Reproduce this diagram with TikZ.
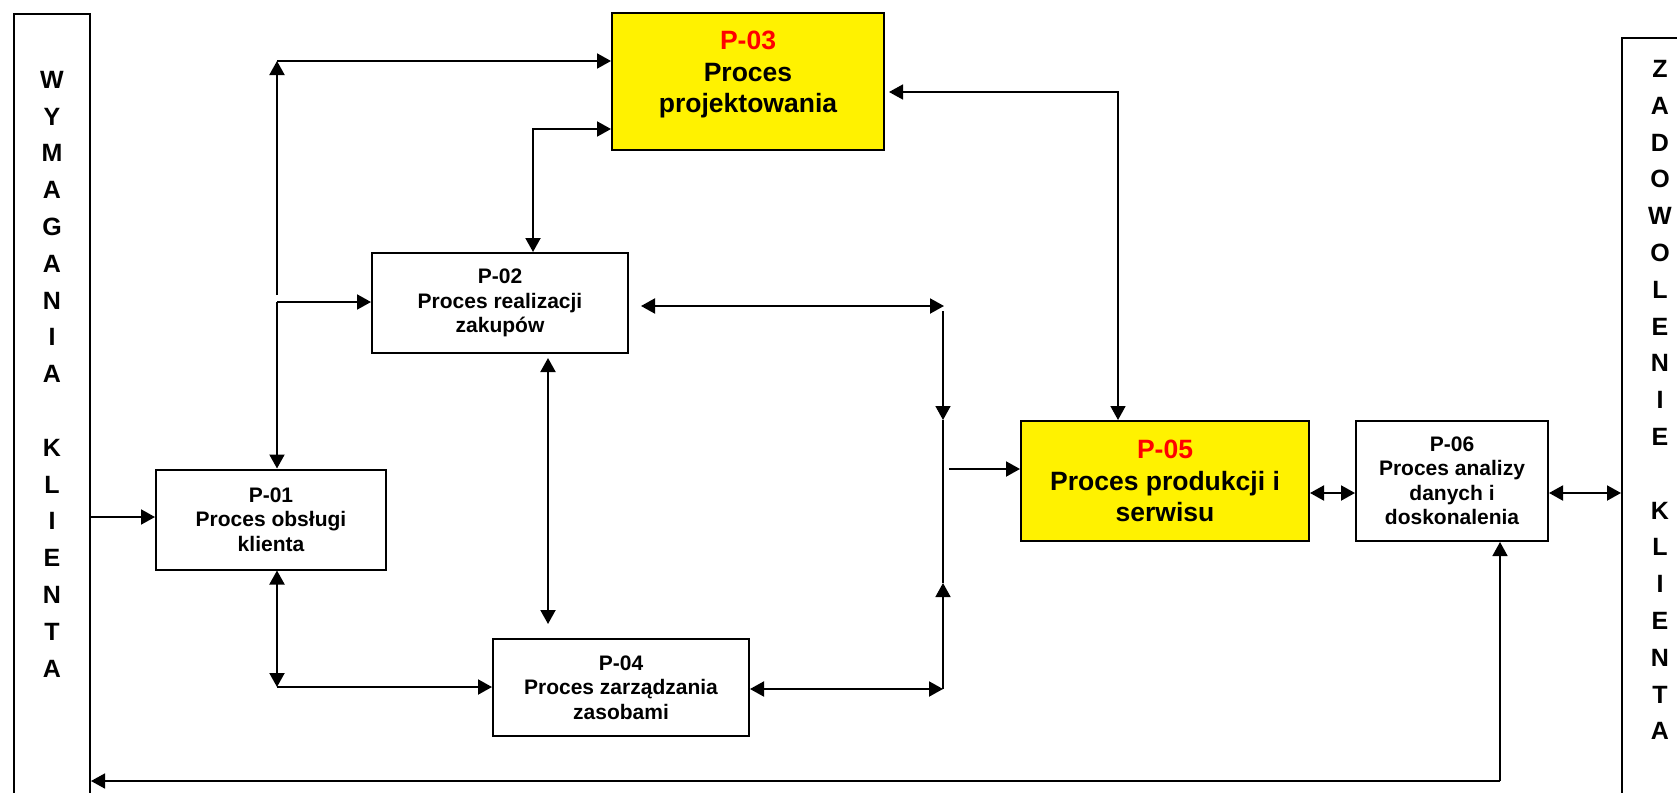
\documentclass[tikz,border=0pt]{standalone}
\usepackage{fontspec}
\setmainfont{Liberation Sans}
\usetikzlibrary{arrows.meta,calc}
\begin{document}
\begin{tikzpicture}[x=1pt,y=-1pt,
  box/.style={draw, line width=2pt, rectangle, inner sep=0pt, align=center,
    font=\bfseries\fontsize{21}{24.5}\selectfont},
  hibox/.style={box, fill=yellow, font=\bfseries\fontsize{26.5}{31.5}\selectfont},
  hilabel/.style={align=center, inner sep=0pt, font=\bfseries\fontsize{26.5}{31.5}\selectfont},
  sidebox/.style={draw, line width=2pt, inner sep=0pt, minimum width=76pt, minimum height=800pt},
  sidetext/.style={align=center, inner sep=0pt, font=\bfseries\fontsize{25}{36.8}\selectfont},
  conn/.style={line width=2pt},
  thin conn/.style={line width=1.6pt},
  tip/.tip={Triangle[length=14pt,width=15pt]},
  arr/.style={conn, -tip},
  arrb/.style={conn, tip-tip},
]
\clip (0,0) rectangle (1677,792);

% side boxes
\node[sidebox, anchor=north west,
  label={[sidetext, yshift=40pt]center:{W\\Y\\M\\A\\G\\A\\N\\I\\A\\[36.8pt]K\\L\\I\\E\\N\\T\\A}}]
  (WK) at (13,13) {};
\node[sidebox, anchor=north west,
  label={[sidetext, yshift=38pt]center:{Z\\A\\D\\O\\W\\O\\L\\E\\N\\I\\E\\[36.8pt]K\\L\\I\\E\\N\\T\\A}}]
  (ZK) at (1621,37) {};

% process boxes
\node[box, minimum width=230pt, minimum height=100pt] (P01) at (271,519.5)
  {P-01\\Proces obsługi\\klienta};
\node[box, minimum width=256pt, minimum height=100pt] (P02) at (500,303)
  {P-02\\Proces realizacji\\zakupów};
\node[hibox, minimum width=272pt, minimum height=137pt,
  label={[hilabel, yshift=7pt]center:{\textcolor{red}{P-03}\\Proces\\projektowania}}]
  (P03) at (748,81.5) {};
\node[box, minimum width=256pt, minimum height=97pt] (P04) at (621,687.5)
  {P-04\\Proces zarządzania\\zasobami};
\node[hibox, minimum width=288pt, minimum height=120pt] (P05) at (1165,481)
  {\textcolor{red}{P-05}\\Proces produkcji i\\serwisu};
\node[box, minimum width=192pt, minimum height=120pt] (P06) at (1452,481)
  {P-06\\Proces analizy\\danych i\\doskonalenia};

% junction coordinates
\coordinate (c1) at (277,61);
\coordinate (c2) at (277,295);
\coordinate (c3) at (277,302);
\coordinate (c4) at (533,129);
\coordinate (c5) at (1118,92);
\coordinate (c6) at (944,306);
\coordinate (v1) at (943,311);
\coordinate (v2) at (943,420);
\coordinate (v3) at (943,583);
\coordinate (v4) at (943,689);
\coordinate (c8) at (949,469);
\coordinate (c10) at (277,687);
\coordinate (m) at (548,0);
\coordinate (c13) at (1500,781);

% connectors
\draw[arr] (WK.east |- 0,517) -- (P01.west |- 0,517);
\draw[arr] (c2) -- (c1);
\draw[arr] (c1) -- (c1 -| P03.west);
\draw[arr] (c3) -- (c3 -| P02.west);
\draw[arr] (c3) -- (c3 |- P01.north);
\draw[arrb] (c4 -| P03.west) -- (c4) -- (c4 |- P02.north);
\draw[thin conn, tip-tip, shorten <=4pt] (c5 -| P03.east) -- (c5) -- (c5 |- P05.north);
\draw[arrb, shorten <=12pt] (c6 -| P02.east) -- (c6);
\draw[thin conn, -tip] (v1) -- (v2);
\draw[thin conn] (v2) -- (v3);
\draw[thin conn, -tip] (v4) -- (v3);
\draw[arr] (c8) -- (c8 -| P05.west);
\draw[arrb] (P04.east |- v4) -- (v4);
\draw[arrb, shorten <=4pt, shorten >=14pt] (m |- P02.south) -- (m |- P04.north);
\draw[arrb] (c10 |- P01.south) -- (c10);
\draw[arr] (c10) -- (c10 -| P04.west);
\draw[arrb] ([yshift=-12pt]P05.east) -- ([yshift=-12pt]P06.west);
\draw[arrb] ([yshift=-12pt]P06.east) -- ([yshift=-12pt]P06.east -| ZK.west);
\draw[thin conn, -tip] (c13) -- (c13 |- P06.south);
\draw[thin conn, -tip] (c13) -- (c13 -| WK.east);
\end{tikzpicture}
\end{document}
